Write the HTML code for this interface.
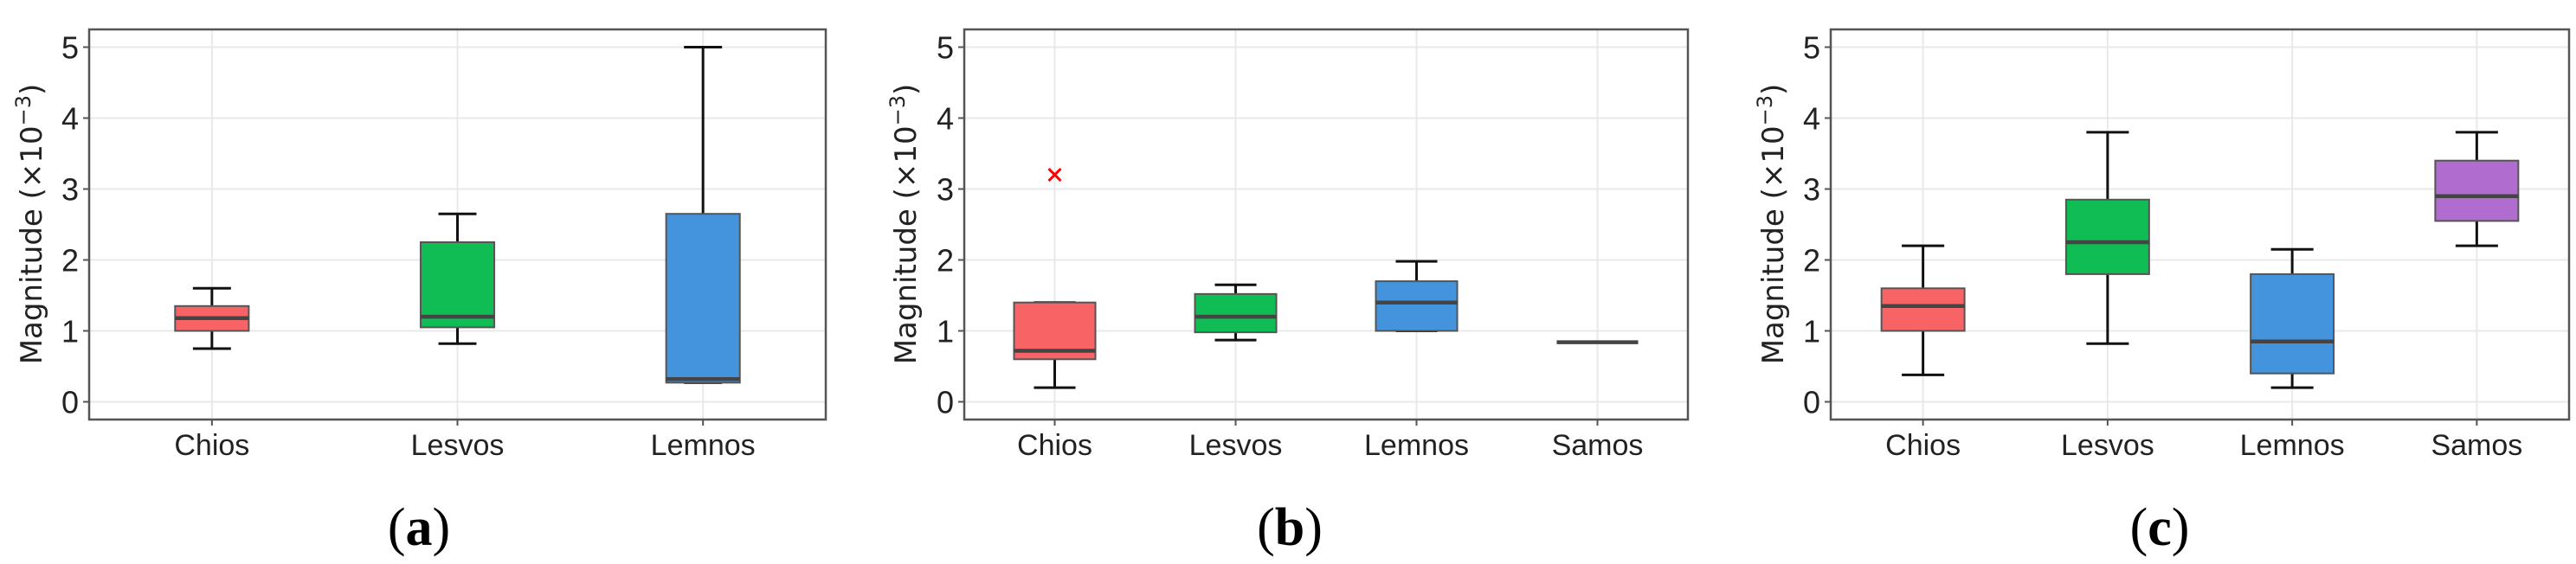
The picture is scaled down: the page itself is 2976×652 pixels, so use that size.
<!DOCTYPE html>
<html><head><meta charset="utf-8">
<style>
html,body{margin:0;padding:0;background:#fff;}
svg{display:block;}
</style></head>
<body>
<svg id="fig" width="2976" height="652" xmlns="http://www.w3.org/2000/svg"></svg>
<script>
const yTicks = [0,1,2,3,4,5];
const catsA = ["Chios","Lesvos","Lemnos"];
const lowA = [0.75,0.82,0.27];
const q1A = [1.0,1.05,0.27];
const medA = [1.18,1.2,0.32];
const q3A = [1.35,2.25,2.65];
const highA = [1.6,2.65,5.0];
const outA = [null,null,null];

const catsB = ["Chios","Lesvos","Lemnos","Samos"];
const lowB = [0.2,0.87,1.0,0.84];
const q1B = [0.6,0.98,1.0,0.84];
const medB = [0.72,1.2,1.4,0.84];
const q3B = [1.4,1.52,1.7,0.84];
const highB = [1.4,1.65,1.98,0.84];
const outB = [3.2,null,null,null];

const catsC = ["Chios","Lesvos","Lemnos","Samos"];
const lowC = [0.38,0.82,0.2,2.2];
const q1C = [1.0,1.8,0.4,2.55];
const medC = [1.35,2.25,0.85,2.9];
const q3C = [1.6,2.85,1.8,3.4];
const highC = [2.2,3.8,2.15,3.8];
const outC = [null,null,null,null];

const colors = ["#f86466","#10bd55","#4393dd","#b16ccf"];
const NS = "http://www.w3.org/2000/svg";
const svg = document.getElementById("fig");
function mk(tag, attrs, parent){const e=document.createElementNS(NS,tag);for(const k in attrs)e.setAttribute(k,attrs[k]);(parent||svg).appendChild(e);return e;}

function panel(cfg){
  const g = mk("g",{});
  
  
  const top=34,bottom=485,left=cfg.left,right=cfg.right;
  const n=cfg.cats.length;
  const y=v=>bottom-(v+0.25)/5.5*(bottom-top);
  const x=i=>left+(i+0.5)/n*(right-left);
  const unit=(right-left)/n;
  yTicks.forEach(t=>{
    const l=mk("line",{x1:left,x2:right,y1:y(t),y2:y(t),stroke:"#e9e9e9","stroke-width":2},g);
    
    
    mk("line",{x1:left-7,x2:left,y1:y(t),y2:y(t),stroke:"#555","stroke-width":2},g);
    const tx=mk("text",{x:left-12,y:y(t)+13,"text-anchor":"end","font-size":36,fill:"#222","font-family":"Liberation Sans, sans-serif"},g);
    tx.textContent=t;
    
    
  });
  cfg.cats.forEach((c,i)=>{
    const l=mk("line",{x1:x(i),x2:x(i),y1:top,y2:bottom,stroke:"#e9e9e9","stroke-width":2},g);
    
    
    mk("line",{x1:x(i),x2:x(i),y1:bottom,y2:bottom+7,stroke:"#555","stroke-width":2},g);
    const tx=mk("text",{x:x(i),y:526,"text-anchor":"middle","font-size":34,fill:"#222","font-family":"Liberation Sans, sans-serif"},g);
    tx.textContent=c;
    
    
  });
  cfg.cats.forEach((c,i)=>{
    const bw=cfg.bw*unit, cw=cfg.cw*unit, cx=x(i);
    const bg=mk("g",{},g);
    
    
    mk("line",{x1:cx,x2:cx,y1:y(cfg.high[i]),y2:y(cfg.q3[i]),stroke:"#111","stroke-width":3},bg);
    mk("line",{x1:cx,x2:cx,y1:y(cfg.q1[i]),y2:y(cfg.low[i]),stroke:"#111","stroke-width":3},bg);
    if(cfg.high[i]!==cfg.low[i]){
      mk("line",{x1:cx-cw/2,x2:cx+cw/2,y1:y(cfg.high[i]),y2:y(cfg.high[i]),stroke:"#111","stroke-width":3},bg);
      mk("line",{x1:cx-cw/2,x2:cx+cw/2,y1:y(cfg.low[i]),y2:y(cfg.low[i]),stroke:"#111","stroke-width":3},bg);
    }
    const h=Math.max(0,y(cfg.q1[i])-y(cfg.q3[i]));
    if(h>0) mk("rect",{x:cx-bw/2,y:y(cfg.q3[i]),width:bw,height:h,fill:colors[i],stroke:"#555","stroke-width":2},bg);
    mk("line",{x1:cx-bw/2,x2:cx+bw/2,y1:y(cfg.med[i]),y2:y(cfg.med[i]),stroke:"#444","stroke-width":4.5},bg);
    if(cfg.out[i]!==null){
      const oy=y(cfg.out[i]);
      const o=mk("path",{d:`M${cx-7},${oy-7}L${cx+7},${oy+7}M${cx-7},${oy+7}L${cx+7},${oy-7}`,stroke:"#f00","stroke-width":3},bg);
      
      
    }
  });
  const fr=mk("rect",{x:left,y:top,width:right-left,height:bottom-top,fill:"none",stroke:"#555","stroke-width":2.5},g);
  
  
  const yl=mk("text",{x:0,y:0,"text-anchor":"middle","font-size":34,fill:"#222","font-family":"DejaVu Sans, sans-serif",transform:`translate(${cfg.labelX},259) rotate(-90)`},g);
  yl.innerHTML='Magnitude (×10<tspan dy="-13" font-size="24">−3</tspan><tspan dy="13">)</tspan>';
  
  
  const cap=mk("text",{x:cfg.capX,y:630,"text-anchor":"middle","font-size":62,fill:"#000","font-family":"Liberation Serif, serif"},g);
  cap.innerHTML='(<tspan font-weight="bold">'+cfg.letter+'</tspan>)';
  
  
}
panel({name:"panel-a",left:103,right:954,cats:catsA,low:lowA,q1:q1A,med:medA,q3:q3A,high:highA,out:outA,bw:0.3,cw:0.155,labelX:48,capX:484,letter:"a"});
panel({name:"panel-b",left:1114,right:1950,cats:catsB,low:lowB,q1:q1B,med:medB,q3:q3B,high:highB,out:outB,bw:0.45,cw:0.23,labelX:1058,capX:1490,letter:"b"});
panel({name:"panel-c",left:2115,right:2968,cats:catsC,low:lowC,q1:q1C,med:medC,q3:q3C,high:highC,out:outC,bw:0.45,cw:0.23,labelX:2060,capX:2495,letter:"c"});
</script>
</body></html>
